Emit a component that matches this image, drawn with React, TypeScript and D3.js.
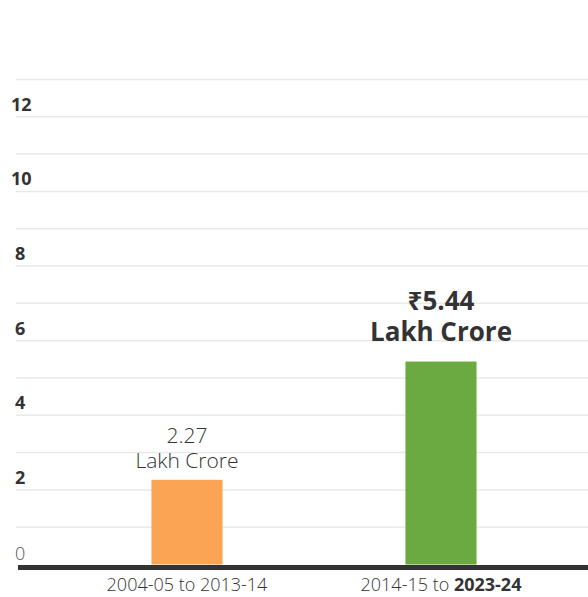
import React from "react";
import * as d3 from "d3";

const categories = ["2004-05 to 2013-14", "2014-15 to 2023-24"];
const values = [2.27, 5.44];
const yTicks = [0, 2, 4, 6, 8, 10, 12];
const gridValues = [1, 2, 3, 4, 5, 6, 7, 8, 9, 10, 11, 12, 13];
const xLabelParts = [
  ["2004-05 to 2013-14", ""],
  ["2014-15 to ", "2023-24"],
];
const valueLabels = ["2.27", "₹5.44"];
const unitLabel = "Lakh Crore";
const colors = ["#FBA454", "#6AAA40"];

const W = 588;
const H = 597;
const FONT = "'Open Sans', 'Noto Sans', sans-serif";

export default function App() {
  const y = d3.scaleLinear().domain([0, 13]).range([564.5, 79.5]);
  const x = d3
    .scaleBand<string>()
    .domain(categories)
    .range([60, 568])
    .paddingInner(0.72)
    .paddingOuter(0.36);
  const bw = x.bandwidth();

  const c0 = x(categories[0])! + bw / 2;
  const t0 = y(values[0]);
  const c1 = x(categories[1])! + bw / 2;
  const t1 = y(values[1]);

  return (
    <svg
      width={W}
      height={H}
      style={{ position: "absolute", left: 0, top: 0, background: "#fff" }}
      fontFamily={FONT}
    >
      {gridValues.map((v) => (
        <line
          key={"g" + v}
          x1={16}
          x2={W}
          y1={y(v)}
          y2={y(v)}
          stroke="#e9e9e9"
          strokeWidth={1.5}
        />
      ))}
      {yTicks.map((v) => (
        <text
          key={"t" + v}
          x={v >= 10 ? 11 : 15}
          y={y(v) - (v === 0 ? 5 : 6)}
          fontSize={18}
          fontWeight={v === 0 ? 300 : 700}
          fill={v === 0 ? "#555" : "#333"}
        >
          {v}
        </text>
      ))}
      {categories.map((c, i) => (
        <rect
          key={"b" + c}
          x={x(c)}
          y={y(values[i])}
          width={bw}
          height={y(0) - y(values[i])}
          fill={colors[i]}
        />
      ))}
      <line x1={18} x2={W} y1={y(0) + 3} y2={y(0) + 3} stroke="#333" strokeWidth={5} />
      <text textAnchor="middle" fontSize={21} fontWeight={300} fill="#333">
        <tspan x={c0} y={t0 - 37}>{valueLabels[0]}</tspan>
        <tspan x={c0} y={t0 - 12}>{unitLabel}</tspan>
      </text>
      <text textAnchor="middle" fontSize={26} fontWeight={700} fill="#333">
        <tspan x={c1} y={t1 - 52}>{valueLabels[1]}</tspan>
        <tspan x={c1} y={t1 - 21}>{unitLabel}</tspan>
      </text>
      {categories.map((c, i) => (
        <text
          key={"x" + c}
          x={x(c)! + bw / 2}
          y={591}
          textAnchor="middle"
          fontSize={18}
          fontWeight={300}
          fill="#333"
        >
          {xLabelParts[i][0]}
          {xLabelParts[i][1] && <tspan fontWeight={700}>{xLabelParts[i][1]}</tspan>}
        </text>
      ))}
    </svg>
  );
}
